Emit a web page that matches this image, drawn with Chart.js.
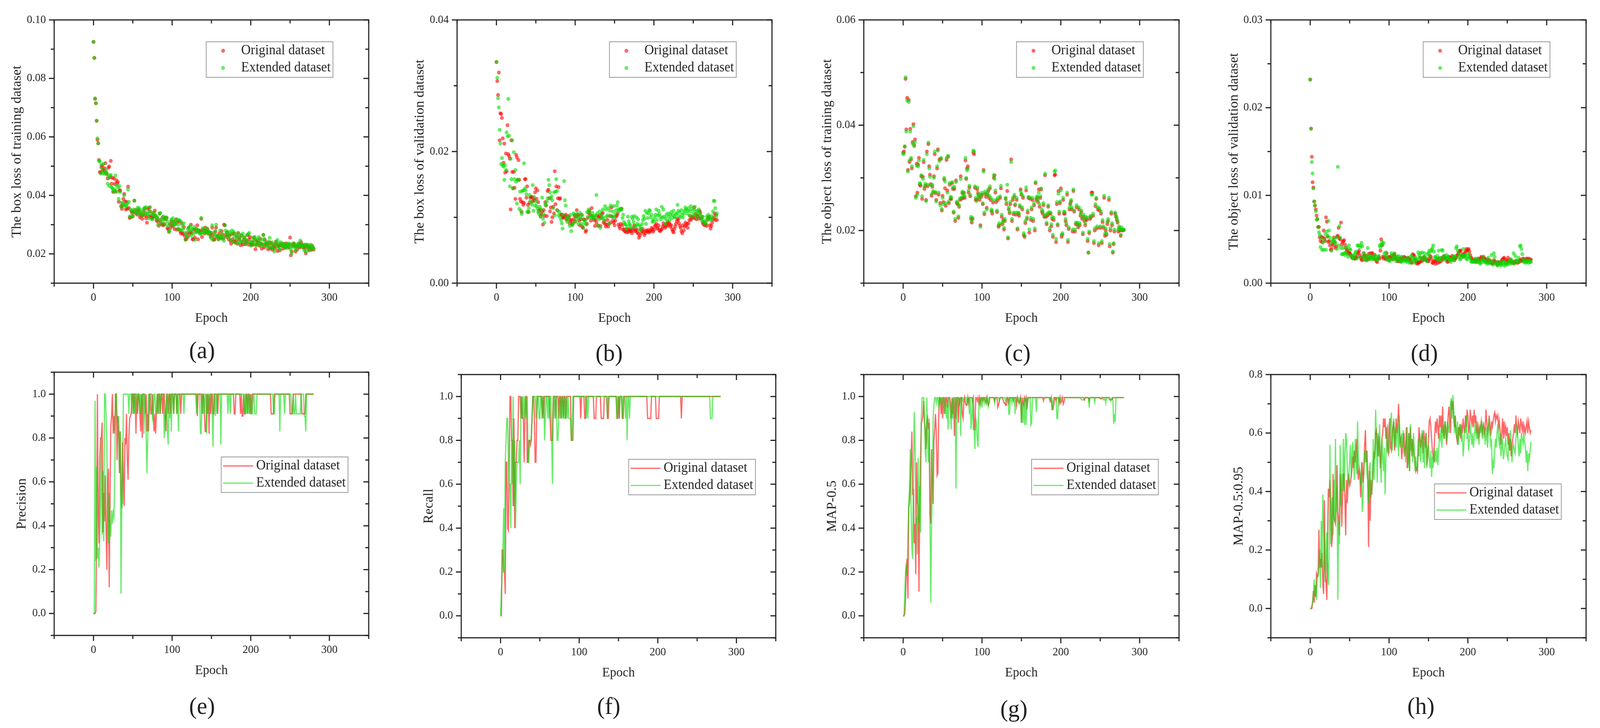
<!DOCTYPE html>
<html>
<head>
<meta charset="utf-8">
<script src="https://cdn.jsdelivr.net/npm/chart.js@4/dist/chart.umd.js"></script>
<style>
html, body { margin: 0; background: #fff; overflow: hidden; }
#page { position: relative; width: 4253px; height: 1864px; overflow: hidden; transform-origin: 0 0; filter: blur(0.7px); }
canvas { position: absolute; }
.tag { position: absolute; font: 62px "Liberation Serif"; color: #222; transform: translate(-50%, -50%); }
</style>
</head>
<body>
<div id="page"></div>
<script>
const seriesNames = ['Original dataset', 'Extended dataset'];
const epochTicks = ['0', '100', '200', '300'];

// values read per epoch (0-280), 20 epochs on a row. box/object loss in 1e-4 or 1e-5, the rest in percent
const boxTrainOrig = [
925,870,730,715,655,590,578,521,480,478,497,502,488,485,493,510,479,472,458,495,
499,462,518,440,460,412,458,439,414,452,441,446,378,418,416,363,354,365,388,405,
379,352,378,354,430,357,323,325,347,340,328,344,382,350,338,342,334,352,345,325,
337,330,320,333,345,355,331,322,307,354,328,358,345,330,325,322,340,328,348,330,
314,322,310,296,338,316,305,300,325,298,302,322,318,324,288,284,276,302,290,312,
300,295,310,285,303,318,283,310,285,312,278,270,305,272,268,292,262,250,250,272,
258,290,268,275,300,272,250,250,282,256,285,275,298,250,278,280,274,320,258,284,
280,270,290,278,272,285,276,272,268,258,272,290,262,248,250,275,290,258,262,250,
270,256,255,278,265,252,300,298,265,258,275,264,250,262,245,235,268,250,242,270,
240,245,260,235,272,248,256,230,264,240,232,248,256,233,240,245,264,232,250,258,
235,230,240,232,256,248,216,232,240,246,238,228,252,235,218,232,265,222,248,232,
235,236,216,228,240,218,236,222,214,232,226,220,242,234,210,228,226,212,234,232,
228,218,234,228,222,236,226,230,222,232,256,195,208,228,232,236,226,208,226,215,
228,235,222,226,240,232,226,222,230,218,202,230,226,222,212,226,218,214,228,222,
215];
const boxTrainExt = [
925,870,732,715,655,595,578,518,516,475,505,490,475,508,475,478,488,476,440,460,
432,468,470,428,425,418,412,420,468,435,412,428,388,432,412,375,360,375,368,400,
368,362,365,372,420,378,328,352,326,345,330,352,382,342,348,338,358,340,356,350,
336,342,330,352,335,358,342,360,338,335,322,345,360,320,336,318,332,342,335,328,
320,326,300,315,338,340,302,320,310,328,318,300,325,322,310,296,275,280,300,318,
310,322,298,305,310,302,318,285,300,316,284,312,280,298,286,305,272,248,265,260,
285,290,278,296,262,285,285,268,292,248,275,286,282,282,276,270,268,323,272,288,
275,282,274,272,288,280,268,276,274,260,252,298,248,272,265,280,300,262,258,250,
262,280,258,252,268,256,245,298,280,272,262,272,258,275,248,268,280,242,276,258,
238,268,252,260,236,268,250,240,262,242,270,258,252,234,248,265,240,268,272,238,
228,242,255,240,232,258,250,228,236,250,258,240,228,234,248,230,265,252,240,226,
238,230,242,222,255,236,220,240,230,218,208,232,240,228,248,222,236,216,240,230,
228,236,232,222,228,220,232,226,236,222,234,216,202,226,236,232,222,212,228,232,
224,236,228,246,226,232,222,228,212,232,208,228,232,220,214,228,232,216,226,222,
218];
const boxValOrig = [
3360,3070,2860,3200,2170,2580,2570,2510,2200,1830,2120,1680,1970,1700,2400,1960,1930,1890,1120,2170,
1690,1440,1690,1450,1280,1950,1910,1570,1870,1570,1280,1240,1080,1230,1190,1220,1580,1580,1300,1470,
1190,1080,1220,1300,1310,1310,1240,1290,1260,1380,1440,1280,1410,1230,1100,1120,1020,1050,1090,890,
1110,1020,1230,1180,1020,1400,1420,1290,1090,1150,930,1000,1160,1060,1700,1200,1470,1110,1290,1460,
1280,1290,1040,1040,1000,990,1020,1010,1040,960,980,1020,1000,910,950,960,890,910,970,1030,
940,1010,1110,1040,1030,950,880,970,1040,860,840,970,960,780,800,900,990,1070,1100,1040,
950,1140,1020,990,960,870,960,920,1020,870,1000,1030,870,990,1050,1070,920,950,900,860,
890,960,860,900,1020,920,1150,1010,950,920,880,950,1010,1030,1060,890,860,830,900,1130,
880,810,820,790,780,810,770,820,780,800,820,790,760,810,840,880,790,800,820,770,
750,690,720,820,760,790,820,780,730,760,800,790,780,810,770,790,800,840,820,780,
810,860,880,900,830,840,880,800,790,810,820,860,910,880,840,860,890,920,870,920,
900,860,880,820,790,770,820,860,900,940,980,960,910,870,840,790,760,880,800,860,
920,880,900,840,910,960,1020,960,1000,990,1010,1150,990,1050,970,1030,1010,980,1100,1070,
980,1010,920,890,920,880,900,870,960,1000,1010,880,830,870,920,970,1000,1060,960,1040,
960];
const boxValExt = [
3360,3120,2810,2670,2330,2120,1810,1900,1790,1770,1570,1790,1720,2290,2230,2800,2240,1470,1890,1580,
2170,1440,1990,1580,1720,1540,1210,1570,1570,1130,1390,1100,1050,1400,1410,1820,1440,1410,1350,1080,
1090,1140,1340,1250,1230,1190,1490,1100,1310,1180,1240,1170,1130,1080,1050,1160,1010,1120,1300,980,
1050,920,1200,1180,1240,1290,1570,1490,1380,1290,1320,1260,1140,1380,1030,1390,1580,1400,1100,1030,
1080,1000,960,910,830,1040,1550,1260,1180,1000,930,970,1010,870,1040,790,880,900,1060,1040,
930,980,1050,1010,900,980,1070,1000,900,1030,840,960,910,950,890,1080,1010,1120,1090,1010,
1030,990,1070,1000,1020,980,1030,1340,1060,880,970,1090,840,1040,990,1120,1000,950,1170,1120,
1010,1030,1140,900,1100,1180,1020,1010,1090,1170,1000,1050,1110,1180,1230,1120,1100,1130,1110,1130,
990,1040,930,900,890,820,860,1010,940,900,880,840,1010,980,930,1020,860,870,1000,900,
970,880,800,860,830,900,960,1020,980,1100,900,1070,990,1060,1110,1100,1000,1040,930,960,
940,1000,1040,1120,960,1030,1100,1050,1010,970,1160,1000,1120,1010,900,980,1040,950,1060,1010,
960,1040,1080,990,1040,1100,1010,1000,1050,1060,1190,1100,1020,1080,1000,1110,1040,1000,1060,1100,
1150,1120,1060,1100,1140,1030,1090,1170,1120,1010,1060,1110,1160,1040,1100,1000,1090,1120,1060,1030,
990,950,1010,960,920,930,900,1010,970,1040,980,990,960,1020,980,1090,1250,1250,1140,1010,
1060];
const objTrainOrig = [
348,350,359,488,392,452,315,448,330,393,335,318,368,402,362,373,265,327,272,325,
338,287,285,303,260,302,330,279,285,258,350,284,364,322,306,288,266,283,272,303,
345,271,258,318,354,268,335,252,336,238,266,254,297,280,247,334,276,340,252,287,
260,260,290,279,234,279,218,295,252,250,224,245,258,303,260,271,262,272,262,333,
298,318,322,272,282,265,222,215,222,348,345,281,258,259,278,271,264,258,210,264,
268,250,315,231,270,264,243,268,275,262,280,258,237,232,253,300,305,272,254,235,
258,207,210,262,280,226,212,220,202,218,260,250,275,185,240,233,250,335,218,258,
231,264,248,230,258,202,232,228,245,278,268,240,262,191,188,214,276,222,234,262,
196,260,220,240,258,218,248,200,290,258,262,254,278,245,262,278,236,232,248,226,
305,226,212,228,245,232,200,232,208,222,188,220,305,306,178,250,210,275,232,252,
280,188,192,258,232,232,218,210,268,178,203,240,250,255,240,198,275,236,198,212,
244,212,206,240,210,228,235,222,193,226,218,210,222,220,180,158,195,222,225,272,
272,228,176,200,246,260,204,240,172,238,205,232,176,216,205,262,190,200,192,212,
218,258,170,200,232,210,158,174,198,232,226,220,215,198,205,200,190,202,200,201,
201];
const objTrainExt = [
345,347,360,491,388,447,312,444,333,388,338,322,365,398,360,368,262,323,268,322,
333,290,288,305,265,298,334,283,289,256,345,287,367,318,302,286,269,287,275,300,
350,273,255,322,352,272,332,248,338,241,262,250,300,293,252,338,272,342,255,290,
264,263,292,282,236,283,222,292,255,252,227,248,261,298,262,274,265,270,265,338,
300,314,318,276,285,268,226,218,224,352,350,284,262,256,282,268,268,262,207,268,
272,252,312,234,274,268,240,272,278,266,284,262,240,236,258,305,298,276,258,238,
262,210,214,265,285,230,215,218,205,222,262,254,287,187,244,236,254,330,222,262,
234,268,250,234,262,204,234,232,248,275,270,244,265,195,190,218,282,225,238,264,
202,262,224,244,262,222,252,204,292,262,265,258,272,250,265,280,240,236,252,228,
308,230,215,232,248,235,204,234,212,226,192,224,312,314,184,254,212,270,236,255,
276,192,195,262,236,235,222,214,272,182,206,244,252,258,244,202,278,238,202,215,
248,215,210,244,214,232,238,226,196,230,222,214,226,224,184,158,198,226,228,268,
268,232,180,204,250,262,208,244,176,242,208,236,180,220,208,266,194,204,195,216,
222,262,174,204,235,214,160,176,202,234,228,224,218,202,208,202,192,206,202,202,
201];
const objValOrig = [
2320,1760,1440,1150,1090,930,885,840,770,730,640,640,520,480,530,470,520,600,510,480,
750,700,530,470,480,430,380,390,450,430,520,470,400,420,530,540,630,510,500,690,
440,470,480,490,440,400,360,380,340,350,340,330,310,290,290,300,280,280,290,300,
340,350,370,320,290,270,260,300,340,310,270,310,260,280,330,280,340,300,340,340,
300,280,320,270,250,240,280,300,280,370,500,430,300,280,300,290,270,340,290,280,
300,270,290,310,290,270,320,330,300,280,270,250,250,280,270,250,290,270,280,300,
290,280,260,270,290,280,260,270,240,230,330,320,310,270,250,230,220,240,230,240,
290,260,250,270,290,300,270,260,270,250,250,280,310,300,270,230,230,250,250,220,
250,270,230,280,240,270,250,290,270,300,310,290,280,270,240,250,300,290,270,280,
310,300,280,260,280,290,310,320,340,360,370,370,310,330,300,320,340,360,390,370,
380,390,360,320,290,280,260,260,250,270,260,240,260,280,270,260,280,300,290,270,
300,280,270,260,240,270,250,240,260,230,240,220,230,260,250,230,240,210,220,240,
230,220,240,260,270,280,290,270,230,250,260,290,250,240,270,250,240,230,240,230,
240,250,240,230,250,240,260,270,250,260,280,270,260,250,280,270,260,280,270,260,
270];
const objValExt = [
2320,1760,1380,1250,1080,930,885,820,720,730,640,580,550,410,510,380,460,380,490,560,
380,590,540,710,600,520,460,370,480,490,500,450,460,520,390,1325,430,650,520,400,
330,330,400,340,320,350,410,330,300,430,390,380,320,300,280,290,320,340,360,280,
430,430,300,410,430,460,420,290,340,300,260,270,310,400,300,270,320,280,300,270,
290,280,320,300,270,260,290,310,430,410,440,470,440,460,340,300,350,310,280,260,
260,250,280,340,320,270,290,340,300,250,270,300,310,270,250,240,300,260,250,280,
260,250,270,240,290,260,230,240,310,300,280,250,270,230,290,260,270,350,320,290,
340,280,350,260,300,340,290,260,250,330,340,370,300,360,380,400,430,360,300,290,
280,310,270,370,290,260,270,380,370,300,310,260,280,320,290,300,280,260,240,260,
280,300,260,310,290,400,420,370,300,330,270,280,310,320,390,300,310,320,280,270,
310,340,300,280,250,240,250,240,260,240,280,240,260,270,240,230,220,260,240,290,
260,240,250,230,260,220,290,230,250,230,320,250,210,340,300,240,220,210,200,240,
220,230,200,220,250,210,240,200,230,220,210,240,220,250,270,220,260,240,340,220,
310,260,240,250,290,250,420,430,390,330,270,240,250,230,260,240,250,230,260,240,
240];
const precisionOrig = [
0,0,0,1,40,100,45,32,70,80,80,87,37,55,42,63,38,20,60,66,
12,50,85,90,100,82,90,82,100,100,70,90,85,64,83,55,48,78,60,49,
80,77,91,70,61,80,89,90,91,100,100,91,100,100,82,100,91,100,100,91,
83,100,80,100,100,100,91,100,83,91,83,100,100,91,91,100,91,83,91,82,
91,100,91,100,100,91,100,100,91,100,100,91,83,100,100,91,100,100,91,100,
100,100,91,100,100,100,91,100,100,100,100,91,100,100,100,100,100,100,100,100,
100,100,100,100,100,100,100,100,100,100,100,100,90,100,100,100,100,100,91,100,
100,91,83,83,100,91,100,82,100,91,100,100,91,91,100,100,100,100,91,100,
100,100,100,100,100,100,100,100,100,100,100,100,100,100,100,100,100,100,100,91,
91,100,100,100,100,100,100,91,100,90,90,100,91,91,100,100,91,100,100,91,
100,91,100,100,100,100,100,100,100,100,100,100,100,100,100,100,100,100,100,100,
100,100,100,100,100,100,91,91,91,91,100,100,100,100,100,100,100,100,100,100,
100,100,100,100,100,100,100,100,100,100,91,91,91,91,100,100,100,100,100,100,
100,100,100,100,100,91,91,91,91,91,100,100,100,100,100,100,100,100,100,100,
100];
const precisionExt = [
0,0,97,24,67,25,30,21,35,50,80,36,65,33,100,100,90,78,45,32,
55,40,35,47,41,46,44,60,100,100,90,88,90,64,83,9,50,50,100,100,
100,100,100,100,100,91,100,100,100,91,100,100,91,100,100,100,91,100,100,91,
100,91,100,100,82,100,91,80,64,80,100,91,100,100,100,89,91,100,100,91,
91,100,100,91,100,91,100,100,100,100,80,90,89,100,83,77,100,89,100,83,
100,100,91,100,100,100,91,100,83,100,100,100,100,100,100,91,100,100,100,100,
100,100,100,100,100,100,100,100,100,100,100,91,100,100,100,100,82,82,100,91,
100,91,100,100,82,100,100,91,100,100,100,91,76,100,100,90,100,91,100,100,
100,100,77,100,100,100,100,100,100,100,100,91,100,100,91,100,100,100,100,100,
100,100,100,100,100,100,100,100,100,100,100,100,91,100,91,100,91,100,91,100,
91,91,91,100,100,91,91,91,100,100,100,100,100,100,100,100,100,100,100,100,
100,100,100,100,100,100,100,100,100,91,91,100,100,100,100,100,100,83,100,100,
100,100,100,91,100,100,100,100,100,100,100,100,91,91,100,91,91,100,91,91,
91,91,91,91,100,100,100,100,90,90,83,100,100,100,100,100,100,100,100,100,
100];
const recallOrig = [
0,0,30,30,20,20,10,70,70,40,39,70,100,100,80,80,50,90,40,70,
70,80,80,100,100,100,90,100,90,90,70,90,100,100,70,70,80,80,78,80,
90,100,100,90,70,70,90,100,100,100,100,100,100,90,100,90,100,100,100,100,
100,100,100,90,80,80,80,100,100,100,90,100,100,100,90,100,100,90,100,100,
90,100,100,90,100,100,100,100,100,100,80,80,80,100,100,100,100,100,100,100,
100,100,90,100,100,100,100,90,90,100,100,100,100,100,100,100,100,100,100,90,
90,90,100,100,100,100,100,100,90,90,90,90,100,100,100,100,90,90,100,100,
100,100,100,100,100,100,100,100,90,90,100,90,100,100,100,90,90,100,100,100,
100,100,100,100,100,100,100,100,100,100,100,100,100,100,100,100,100,100,100,100,
100,100,100,100,100,100,100,90,90,90,90,90,100,100,100,100,100,100,90,90,
90,90,100,100,100,100,100,100,100,100,100,100,100,100,100,100,100,100,100,100,
100,100,100,100,100,100,100,100,100,100,90,100,100,100,100,100,100,100,100,100,
100,100,100,100,100,100,100,100,100,100,100,100,100,100,100,100,100,100,100,100,
100,100,100,100,100,100,100,100,100,100,100,100,100,100,100,100,100,100,100,100,
100];
const recallExt = [
0,10,20,30,49,20,70,80,90,90,70,60,60,40,80,60,100,50,80,40,
60,70,70,70,80,60,100,90,100,90,100,90,100,90,100,70,70,80,80,80,
90,100,100,100,100,90,100,100,100,90,90,100,100,90,100,100,80,90,100,100,
90,100,90,100,100,80,60,100,90,100,100,100,80,80,90,100,90,100,90,100,
90,100,90,90,100,90,100,90,90,90,80,80,100,100,100,100,100,100,100,100,
100,100,100,100,100,100,100,100,100,90,100,90,100,100,100,100,100,100,100,100,
100,100,100,100,100,100,100,100,100,100,100,100,100,100,100,100,90,100,100,100,
100,100,100,100,100,100,100,100,90,100,100,90,100,100,100,90,100,100,100,90,
100,80,100,100,90,100,100,100,100,100,100,100,100,100,100,100,100,100,100,100,
100,100,100,100,100,100,100,100,100,100,100,100,100,100,100,100,100,100,100,100,
100,100,100,100,100,100,100,100,100,100,100,100,100,100,100,100,100,100,100,100,
100,100,100,100,100,100,100,100,100,100,100,100,100,100,100,100,100,100,100,100,
100,100,100,100,100,100,100,100,100,100,100,100,100,100,100,100,100,100,100,100,
100,100,100,100,100,100,100,90,90,90,100,100,100,100,100,100,100,100,100,100,
100];
const map50Orig = [
0,0,1,8,23,26,8,49,52,60,70,84,55,58,33,42,19,70,52,50,
11,50,72,88,89,91,98,88,85,76,88,90,85,88,46,42,76,60,51,80,
85,92,84,64,65,90,99.5,99.5,92,99.5,90,99.5,99.5,92,99.5,99.5,95,99.5,99.5,99.5,
97,90,99.5,92,99.5,82,99.5,90,99.5,99.5,88,99.5,97,99.5,99.5,92,90,97,99.5,97,
96,96,99.5,97,99.5,99.5,99.5,99.5,98,99.5,85,85,99.5,99.5,98,99.5,97,99.5,97,99.5,
99.5,98,99.5,99.5,98,97,99.5,98,96,97,99.5,99.5,99.5,99.5,99.5,99.5,98,99.5,99.5,99.5,
95,96,98,99.5,99.5,99.5,99.5,98,97,97,96,96,99.5,99.5,97,99.5,99.5,99.5,99.5,99.5,
98,99.5,99.5,99.5,96,99.5,98,97,98,99.5,88,99.5,97,96,99.5,98,99.5,94,99.5,99.5,
99.5,99.5,99.5,99.5,99.5,99.5,99.5,99.5,99.5,99.5,99.5,99.5,99.5,99.5,99.5,99.5,99.5,99.5,98,99.5,
99.5,99.5,99.5,99.5,99.5,99.5,99.5,98,99.5,94,94,96,99.5,99.5,98,99.5,99.5,99.5,97,99.5,
97,98,99.5,96.5,97.5,99.5,99.5,99.5,99.5,99.5,99.5,99.5,99.5,99.5,99.5,99.5,99.5,99.5,99.5,99.5,
99.5,99.5,99.5,99.5,99.5,99.5,99.5,99.5,99.5,99.5,98.5,99.5,99.5,99.5,99.5,99.5,98,99.5,99.5,99.5,
99.5,99.5,99.5,99.5,99.5,99.5,99.5,99.5,99.5,99.5,99,99,99,99.5,99.5,99.5,99.5,99.5,99.5,99.5,
99.5,99.5,98.5,98.5,98.5,98.5,99.5,99.5,99.5,99.5,99.5,99.5,99.5,99.5,99.5,99.5,99.5,99.5,99.5,99.5,
99.5];
const map50Ext = [
0,0,10,20,23,18,36,50,58,76,50,31,26,65,93,80,42,45,28,72,
42,59,38,90,99.5,99.5,99.5,90,75,70,99.5,80,70,90,45,6,42,60,90,96,
99.5,99.5,97,99.5,99.5,96,99.5,99.5,97,99.5,99.5,95,92,99.5,97,90,96,85,99.5,97,
92,85,99.5,90,99.5,99.5,99.5,58,99.5,99.5,99.5,97,99.5,82,99.5,99.5,98,99.5,99.5,99.5,
99.5,97,99.5,99.5,92,99.5,85,90,99.5,85,85,76,90,88,80,77,95,99.5,96,99.5,
95,99.5,99.5,97,99.5,99.5,97,99.5,96,99.5,99.5,99.5,99.5,99.5,99.5,99.5,97,99.5,99.5,99.5,
99.5,99.5,98,99.5,99.5,99.5,99.5,99.5,99.5,99.5,97,99.5,99.5,99.5,92,92,99.5,99.5,97,99.5,
99.5,99.5,92,99.5,99.5,99.5,99.5,97,99.5,99.5,88,97,88,99.5,87,99.5,87,99.5,97,99.5,
99.5,99.5,87,88,99.5,99.5,99.5,99.5,99.5,93,99.5,99.5,99.5,99.5,99.5,99.5,99.5,99.5,99.5,99.5,
99.5,99.5,99.5,99.5,99.5,99.5,98,99.5,99.5,94,97,99.5,99.5,99.5,99.5,90,90,99.5,99.5,98,
99.5,99.5,99.5,99.5,99.5,99.5,99.5,99.5,99.5,99.5,99.5,99.5,99.5,99.5,99.5,99.5,99.5,99.5,99.5,99.5,
99.5,99.5,99.5,99.5,99.5,99.5,98.5,98.5,98.5,98.5,98.5,99.5,99.5,99.5,99.5,99.5,95,99.5,99.5,99.5,
99.5,99.5,99.5,97.5,99.5,99.5,99.5,99.5,99.5,99.5,99.5,99.5,99.5,99.5,98.5,98.5,99,97,99.5,99.5,
99.5,99.5,99.5,98,99,99.5,99.5,87.5,92,88.5,99.5,99.5,99.5,99.5,99.5,99.5,99.5,99.5,99.5,99.5,
99.5];
const map95Orig = [
0,0,0,2,6,2,8,4,12,11,12,27,14,17,14,19,8,5,37,12,
9,3,26,41,38,44,37,21,24,46,31,30,29,38,49,33,30,25,46,43,
28,38,46,46,37,25,44,36,43,46,42,43,45,48,52,48,54,50,54,58,
48,44,48,46,38,46,50,43,46,56,61,50,54,45,21,47,30,44,39,44,
50,53,52,60,61,57,52,59,55,48,53,58,60,65,62,65,58,62,54,53,
62,65,55,54,60,62,64,54,58,65,60,63,70,62,57,58,51,54,58,60,
52,55,62,48,50,60,47,62,57,52,58,54,52,50,47,48,47,55,62,58,
55,58,60,53,61,58,55,60,49,52,58,64,65,62,58,54,52,50,60,64,
60,65,62,58,66,62,66,60,69,60,58,64,62,56,60,66,69,65,60,71,
68,71,65,62,66,60,58,56,62,60,63,58,62,60,65,62,60,66,62,68,
66,60,62,68,65,63,66,62,68,64,66,60,62,58,62,60,62,64,60,62,
63,60,62,68,64,60,62,66,62,59,64,62,64,66,67,64,66,65,66,62,
64,60,56,60,65,58,64,60,62,59,62,56,60,54,58,52,56,58,60,63,
60,66,62,60,64,62,60,65,63,61,64,60,62,60,62,64,60,64,62,60,
61];
const map95Ext = [
0,0,1,2,5,10,4,8,3,11,11,14,20,7,30,14,39,28,22,9,
15,26,14,8,20,56,22,32,38,25,44,30,58,33,42,3,30,22,56,35,
46,40,58,40,52,60,58,48,42,46,50,56,45,52,57,50,44,58,50,46,
64,52,48,45,42,50,33,38,48,54,50,54,46,44,36,48,50,38,40,44,
58,44,52,68,56,43,60,52,63,50,43,58,52,47,55,39,51,58,63,55,
53,59,64,67,54,60,65,56,62,55,60,63,52,66,55,58,60,55,61,53,
55,50,57,62,48,60,47,63,54,58,50,60,55,47,52,48,47,58,52,60,
50,56,61,50,57,48,58,60,48,54,56,51,48,54,45,52,48,55,50,54,
50,55,49,54,60,58,62,55,60,63,58,64,60,57,64,62,60,66,70,72,
65,73,68,60,66,62,58,64,56,62,60,63,57,60,52,56,62,60,66,58,
60,54,58,62,60,56,60,55,58,62,60,58,64,60,56,60,63,60,64,58,
62,60,56,62,58,55,60,65,60,56,58,46,50,48,54,58,55,60,63,58,
56,60,52,55,58,51,53,56,58,54,52,51,58,54,61,56,50,55,56,54,
53,58,62,60,55,52,58,53,60,58,56,59,57,55,50,54,47,53,51,54,
57];

const redColor = 'rgba(255,0,0,0.6)';
const greenColor = 'rgba(0,221,0,0.6)';
const textColor = '#222';
const serif = 'Liberation Serif';

const panels = [
  { tag: '(a)', tagX: 537, tagY: 896, title: 'The box loss of training dataset', titleX: 46, box: [144, 51, 980, 725], legend: [404, 56], min: .01, max: .10, step: .01, digits: 2, labels: ['0.02','0.04','0.06','0.08','0.10'], kind: 'dots', unit: 1e-4, s: [boxTrainOrig, boxTrainExt] },
  { tag: '(b)', tagX: 1619, tagY: 903, title: 'The box loss of validation dataset', titleX: 1117, box: [1215, 51, 2052, 725], legend: [405, 56], min: 0, max: .04, step: .01, digits: 2, labels: ['0.00','0.02','0.04'], kind: 'dots', unit: 1e-5, s: [boxValOrig, boxValExt] },
  { tag: '(c)', tagX: 2705, tagY: 903, title: 'The object loss of training dataset', titleX: 2200, box: [2296, 51, 3134, 725], legend: [406, 56], min: .01, max: .06, step: .01, digits: 2, labels: ['0.02','0.04','0.06'], kind: 'dots', unit: 1e-4, s: [objTrainOrig, objTrainExt] },
  { tag: '(d)', tagX: 3786, tagY: 903, title: 'The object loss of validation dataset', titleX: 3281, box: [3378, 51, 4216, 725], legend: [405, 56], min: 0, max: .03, step: .005, digits: 3, labels: ['0.000','0.010','0.020','0.030'], show: ['0.00','0.01','0.02','0.03'], kind: 'dots', unit: 1e-5, s: [objValOrig, objValExt] },
  { tag: '(e)', tagX: 537, tagY: 1807, title: 'Precision', titleX: 59, box: [144, 953, 980, 1627], legend: [444, 217], min: -.1, max: 1.1, step: .1, digits: 1, labels: ['0.0','0.2','0.4','0.6','0.8','1.0'], kind: 'lines', unit: .01, s: [precisionOrig, precisionExt] },
  { tag: '(f)', tagX: 1618, tagY: 1807, title: 'Recall', titleX: 1141, box: [1226, 959, 2062, 1633], legend: [445, 217], min: -.1, max: 1.1, step: .1, digits: 1, labels: ['0.0','0.2','0.4','0.6','0.8','1.0'], kind: 'lines', unit: .01, s: [recallOrig, recallExt] },
  { tag: '(g)', tagX: 2695, tagY: 1814, title: 'MAP-0.5', titleX: 2213, box: [2296, 959, 3134, 1633], legend: [446, 217], min: -.1, max: 1.1, step: .1, digits: 1, labels: ['0.0','0.2','0.4','0.6','0.8','1.0'], kind: 'lines', unit: .01, s: [map50Orig, map50Ext] },
  { tag: '(h)', tagX: 3777, tagY: 1807, title: 'MAP-0.5:0.95', titleX: 3294, box: [3378, 959, 4216, 1633], legend: [435, 280], min: -.1, max: .8, step: .1, digits: 1, labels: ['0.0','0.2','0.4','0.6','0.8'], kind: 'lines', unit: .01, s: [map95Orig, map95Ext] },
];

// frame, mirrored tick marks and the boxed legend
const framePlugin = {
  id: 'frame',
  afterDraw(chart, args, opts) {
    const { ctx, chartArea: area, scales: { x, y } } = chart;
    ctx.save();
    ctx.strokeStyle = '#222';
    ctx.lineWidth = 3;
    ctx.strokeRect(area.left, area.top, area.right - area.left, area.bottom - area.top);
    x.ticks.forEach(t => {
      const px = x.getPixelForValue(t.value);
      const len = t.label ? 14 : 9;
      ctx.beginPath();
      ctx.moveTo(px, area.bottom); ctx.lineTo(px, area.bottom + len);
      ctx.moveTo(px, area.top); ctx.lineTo(px, area.top + len);
      ctx.stroke();
    });
    y.ticks.forEach(t => {
      const py = y.getPixelForValue(t.value);
      const len = t.label ? 14 : 9;
      ctx.beginPath();
      ctx.moveTo(area.left, py); ctx.lineTo(area.left - len, py);
      ctx.moveTo(area.right, py); ctx.lineTo(area.right - len, py);
      ctx.stroke();
    });
    const bx = area.left + opts.at[0], by = area.top + opts.at[1];
    ctx.lineWidth = 2;
    ctx.strokeStyle = '#999';
    ctx.strokeRect(bx, by, 337, 91);
    ctx.font = '35px "' + serif + '"';
    ctx.textBaseline = 'middle';
    chart.data.datasets.forEach((d, i) => {
      const ly = by + 23 + i * 44;
      ctx.strokeStyle = ctx.fillStyle = d.borderColor;
      if (opts.kind === 'dots') {
        ctx.beginPath();
        ctx.arc(bx + 45, ly, 5, 0, Math.PI * 2);
        ctx.fill();
      } else {
        ctx.lineWidth = 3;
        ctx.beginPath();
        ctx.moveTo(bx + 5, ly); ctx.lineTo(bx + 85, ly);
        ctx.stroke();
      }
      ctx.fillStyle = textColor;
      ctx.fillText(d.label, bx + 93, ly);
    });
    ctx.restore();
  }
};

const page = document.getElementById('page');
// the window can come out narrower than 4253, keep all panels in view
page.style.transform = 'scaleX(' + Math.min(1, innerWidth / 4253) + ')';
const padTop = 24, padRight = 24, xAxisH = 110;

panels.forEach(p => {
  const [l, t, r, b] = p.box;
  const left = p.titleX - 21;
  const canvas = document.createElement('canvas');
  canvas.width = r - left + padRight;
  canvas.height = b - t + padTop + xAxisH;
  canvas.style.left = left + 'px';
  canvas.style.top = (t - padTop) + 'px';
  page.appendChild(canvas);

  const tag = document.createElement('div');
  tag.className = 'tag';
  tag.textContent = p.tag;
  tag.style.left = p.tagX + 'px';
  tag.style.top = p.tagY + 'px';
  page.appendChild(tag);

  const yWidth = l - left;
  new Chart(canvas, {
    type: 'line',
    data: {
      datasets: p.s.map((vals, i) => ({
        label: seriesNames[i],
        data: vals.map((v, epoch) => ({ x: epoch, y: v * p.unit })),
        borderColor: i ? greenColor : redColor,
        backgroundColor: i ? greenColor : redColor,
        borderWidth: 3.2,
        showLine: p.kind === 'lines',
        pointRadius: p.kind === 'lines' ? 0 : 5,
        pointBorderWidth: 0,
        tension: 0,
        order: i ? 0 : 1,
      })),
    },
    options: {
      responsive: false,
      animation: false,
      devicePixelRatio: 1,
      layout: { padding: { top: padTop, right: padRight } },
      plugins: { legend: { display: false }, tooltip: { enabled: false }, frame: { at: p.legend, kind: p.kind } },
      scales: {
        x: {
          type: 'linear', min: -50, max: 350,
          grid: { display: false, drawTicks: false }, border: { display: false },
          afterFit(s) { s.height = xAxisH; },
          ticks: {
            stepSize: 50, autoSkip: false, maxRotation: 0, padding: 20, color: textColor,
            font: { family: serif, size: 29 },
            callback: v => epochTicks.includes(String(v)) ? String(v) : '',
          },
          title: { display: true, text: 'Epoch', color: textColor, padding: 0, font: { family: serif, size: 34 } },
        },
        y: {
          min: p.min, max: p.max,
          grid: { display: false, drawTicks: false }, border: { display: false },
          afterFit(s) { s.width = yWidth; s.paddingTop = 0; s.paddingBottom = 0; },
          ticks: {
            stepSize: p.step, autoSkip: false, padding: 22, color: textColor,
            font: { family: serif, size: 29 },
            callback: v => {
              const i = p.labels.indexOf(v.toFixed(p.digits));
              return i < 0 ? '' : (p.show || p.labels)[i];
            },
          },
          title: { display: true, text: p.title, color: textColor, padding: 0, font: { family: serif, size: 35 } },
        },
      },
    },
    plugins: [framePlugin],
  });
});
</script>
</body>
</html>
